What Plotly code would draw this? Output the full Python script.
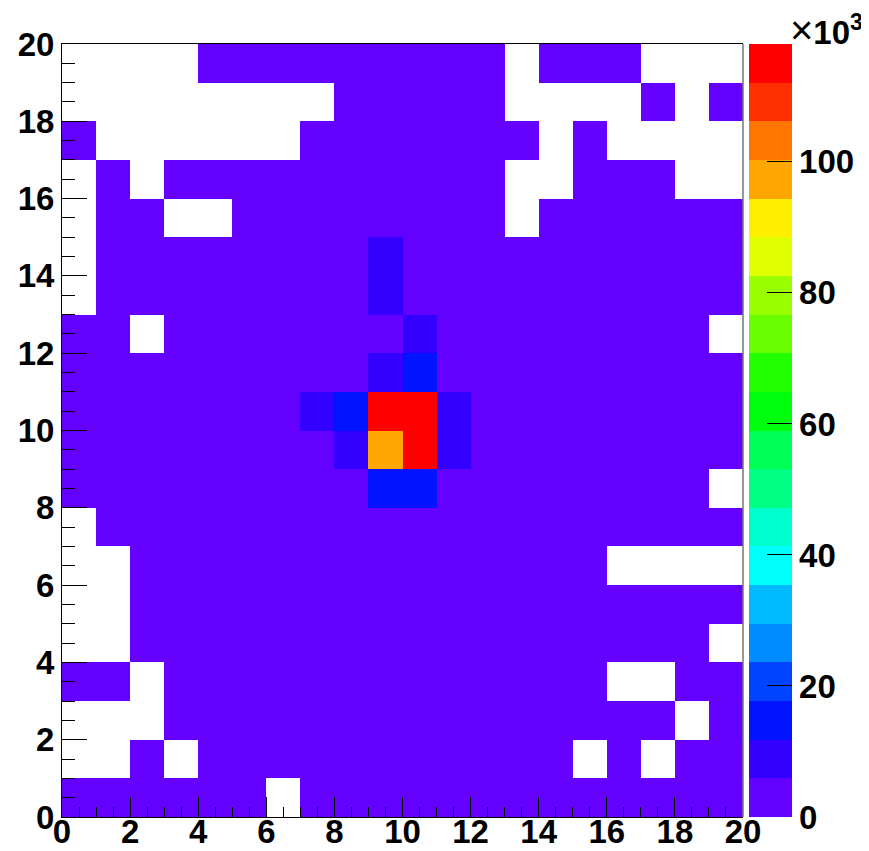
import plotly.graph_objects as go

# bin edges / centres of the 20x20 histogram
x_centers = [i + 0.5 for i in range(20)]
y_centers = [j + 0.5 for j in range(20)]

# bin contents in units of 10^3 (0 = empty bin, not drawn); rows from y=0 (bottom) to y=19 (top)
row_00 = [0.3,0.2,0.4,0.3,0.5,0.4,0,0.6,0.7,0.9,1.0,0.8,0.7,0.5,0.4,0.3,0.3,0.2,0.2,0.1]
row_01 = [0,0,0.3,0,0.6,0.7,0.8,1.0,1.1,1.3,1.4,1.2,1.0,0.9,0.7,0,0.4,0,0.2,0.2]
row_02 = [0,0,0,0.5,0.7,0.9,1.1,1.3,1.6,1.9,2.0,1.7,1.4,1.2,0.9,0.7,0.5,0.4,0,0.2]
row_03 = [0.2,0.3,0,0.6,0.9,1.1,1.4,1.7,2.1,2.5,2.6,2.2,1.8,1.5,1.1,0.8,0,0,0.3,0.2]
row_04 = [0,0,0.5,0.8,1.0,1.3,1.7,2.1,2.6,3.1,3.2,2.7,2.2,1.8,1.3,1.0,0.7,0.5,0.3,0]
row_05 = [0,0,0.6,0.9,1.2,1.6,2.0,2.6,3.2,3.8,3.9,3.3,2.7,2.1,1.6,1.2,0.8,0.6,0.4,0.2]
row_06 = [0,0,0.7,1.0,1.4,1.9,2.4,3.1,3.9,4.6,4.7,4.0,3.2,2.5,1.9,1.4,0,0,0,0]
row_07 = [0,0.5,0.8,1.1,1.6,2.1,2.8,3.6,4.5,5.4,5.5,4.6,3.7,2.9,2.1,1.5,1.1,0.7,0.5,0.3]
row_08 = [0.3,0.5,0.9,1.2,1.7,2.3,3.1,4.0,5.2,13.9,14.2,5.3,4.1,3.2,2.3,1.7,1.2,0.8,0.5,0]
row_09 = [0.3,0.6,0.9,1.3,1.8,2.5,3.4,4.5,9.4,97.2,113.1,8.3,4.6,3.5,2.5,1.8,1.3,0.9,0.6,0.3]
row_10 = [0.4,0.6,1.0,1.4,1.9,2.6,3.6,7.8,15.3,118.0,114.6,8.9,4.8,3.6,2.6,1.9,1.3,0.9,0.6,0.4]
row_11 = [0.3,0.6,0.9,1.3,1.8,2.5,3.4,4.6,5.7,9.1,14.6,5.6,4.5,3.4,2.5,1.8,1.2,0.8,0.6,0.3]
row_12 = [0.3,0.5,0,1.2,1.7,2.3,3.1,4.1,5.1,5.7,7.4,5.2,4.1,3.1,2.3,1.7,1.1,0.8,0.5,0]
row_13 = [0,0.5,0.8,1.1,1.5,2.1,2.8,3.6,4.5,8.6,5.4,4.5,3.6,2.8,2.1,1.5,1.0,0.7,0.5,0.3]
row_14 = [0,0.4,0.7,1.0,1.4,1.9,2.5,3.1,3.8,8.2,4.6,3.9,3.1,2.4,1.8,1.3,0.9,0.6,0.4,0.2]
row_15 = [0,0.4,0.6,0,0,1.6,2.1,2.6,3.1,3.6,3.7,3.1,2.6,0,1.5,1.1,0.8,0.5,0.3,0.2]
row_16 = [0,0.3,0,0.7,1.0,1.3,1.7,2.1,2.5,2.8,2.9,2.5,2.0,0,0,0.9,0.6,0.4,0,0]
row_17 = [0.2,0,0,0,0,0,0,1.6,1.9,2.2,2.2,1.9,1.6,1.2,0,0.7,0,0,0,0]
row_18 = [0,0,0,0,0,0,0,0,1.5,1.6,1.7,1.4,1.2,0,0,0,0,0.3,0,0.1]
row_19 = [0,0,0,0,0.6,0.8,1.0,1.1,1.2,1.3,1.3,1.1,0.9,0,0.5,0.4,0.3,0,0,0]

rows = [row_00, row_01, row_02, row_03, row_04, row_05, row_06, row_07, row_08, row_09,
        row_10, row_11, row_12, row_13, row_14, row_15, row_16, row_17, row_18, row_19]

z_max = 118.0
axis_ticks = [0, 2, 4, 6, 8, 10, 12, 14, 16, 18, 20]
cbar_ticks = [0, 20, 40, 60, 80, 100]

# ROOT "pretty" palette, 20 contour levels
level_colors = [
    "rgb(99,0,255)", "rgb(51,0,255)", "rgb(0,20,255)", "rgb(0,68,255)", "rgb(0,139,255)",
    "rgb(0,187,255)", "rgb(0,255,252)", "rgb(0,255,204)", "rgb(0,255,133)", "rgb(0,255,85)",
    "rgb(0,255,14)", "rgb(34,255,0)", "rgb(105,255,0)", "rgb(153,255,0)", "rgb(224,255,0)",
    "rgb(255,238,0)", "rgb(255,167,0)", "rgb(255,119,0)", "rgb(255,48,0)", "rgb(255,0,0)",
]
n = len(level_colors)
colorscale = []
for k, c in enumerate(level_colors):
    colorscale.append([k / n, c])
    colorscale.append([(k + 1) / n, c])

z = [[(v if v > 0 else None) for v in r] for r in rows]

# page body has an 8px margin: figure drawn 8px smaller and coordinates shifted by 8
OFF = 8
W, H = 869 - OFF, 851 - OFF
L, R, T, B = 62 - OFF, 743 - OFF, 44 - OFF, 817 - OFF
pw = R - L
ph = B - T

font = dict(family="Liberation Sans, Arial, sans-serif", size=33, color="black", weight="bold")

fig = go.Figure(go.Heatmap(
    x=x_centers, y=y_centers, z=z,
    zmin=0, zmax=z_max, colorscale=colorscale,
    hoverongaps=False,
    colorbar=dict(
        x=(749 - OFF - L) / pw, xanchor="left", xpad=0,
        y=0.5, yanchor="middle", ypad=0, len=1, lenmode="fraction",
        thickness=43, thicknessmode="pixels", outlinewidth=0,
        tickvals=cbar_ticks, ticktext=[str(t) for t in cbar_ticks],
        ticks="inside", ticklen=25, tickcolor="black", tickwidth=1,
        tickfont=font,
    ),
))

fig.update_layout(
    width=W, height=H,
    margin=dict(l=L, r=W - R, t=T, b=H - B, pad=0, autoexpand=False),
    paper_bgcolor="white", plot_bgcolor="white",
    showlegend=False,
    xaxis=dict(range=[0, 20], tickvals=axis_ticks, ticks="inside", ticklen=20, tickwidth=1,
               tickcolor="black", showline=True, linecolor="black", linewidth=1, mirror=True,
               showgrid=False, zeroline=False, tickfont=font, automargin=False,
               ticklabelstandoff=-15,
               minor=dict(dtick=0.5, ticks="inside", ticklen=10, tickcolor="black", tickwidth=1,
                          showgrid=False)),
    yaxis=dict(range=[0, 20], tickvals=axis_ticks, ticks="inside", ticklen=25, tickwidth=1,
               tickcolor="black", showline=True, linecolor="black", linewidth=1, mirror=False,
               showgrid=False, zeroline=False, tickfont=font, automargin=False,
               minor=dict(dtick=0.5, ticks="inside", ticklen=13, tickcolor="black", tickwidth=1,
                          showgrid=False)),
    shapes=[
        dict(type="line", xref="paper", yref="paper", x0=1, x1=1, y0=0, y1=1,
             line=dict(color="#777777", width=1.5)),
        dict(type="line", xref="paper", yref="paper", x0=(791.5 - OFF - L) / pw,
             x1=(791.5 - OFF - L) / pw, y0=0, y1=1, line=dict(color="#555555", width=1)),
    ],
    annotations=[dict(
        xref="paper", yref="paper", x=(788 - OFF - L) / pw, y=1 - 10 / ph,
        xanchor="left", yanchor="bottom", showarrow=False,
        text="<span style='font-size:40px'>×</span><b>10<sup>3</sup></b>",
        font=dict(family="Liberation Sans, Arial, sans-serif", size=33, color="black"),
    )],
)

fig.write_html("out.html")
